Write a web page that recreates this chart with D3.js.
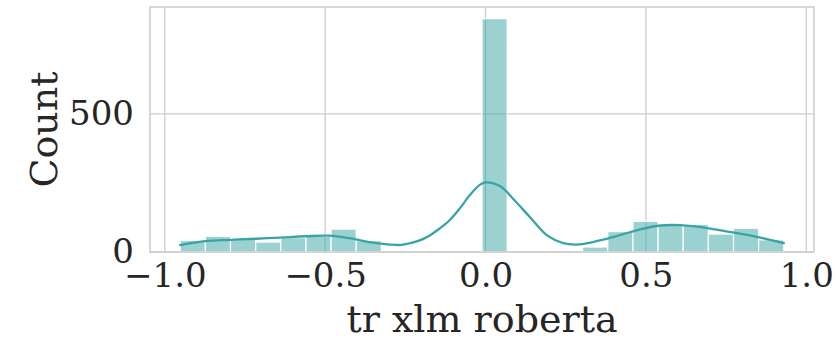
<!DOCTYPE html>
<html>
<head>
<meta charset="utf-8">
<script src="https://cdn.jsdelivr.net/npm/d3@7"></script>
<style>
  html, body { margin: 0; padding: 0; background: #ffffff; }
  svg { display: block; }
  text { font-family: "DejaVu Serif", serif; fill: #262626; }
</style>
</head>
<body>
<svg id="chart" width="837" height="341"></svg>
<script>
// Histogram of tr xlm roberta scores: 24 equal-width bins between the data extremes
const dataMin = -0.952;
const dataMax = 0.930;
const binCounts = [42, 57, 47, 36, 52, 57, 83, 41, 0, 0, 0, 0,
                   845, 0, 0, 0, 18, 74, 111, 97, 100, 65, 86, 44];

// Kernel density estimate, scaled to counts
const kdeX = [-0.952, -0.873, -0.795, -0.717, -0.640, -0.562, -0.487, -0.424, -0.362,
              -0.299, -0.261, -0.205, -0.174, -0.143, -0.112, -0.080, -0.049, -0.018,
              0.000, 0.045, 0.085, 0.138, 0.192, 0.242, 0.285, 0.335, 0.398, 0.482,
              0.545, 0.607, 0.701, 0.795, 0.857, 0.930];
const kdeY = [25, 39, 44, 48, 52, 57, 59, 50, 36,
              27, 26, 42, 60, 85, 115, 158, 206, 243,
              252, 239, 194, 127, 60, 32, 27, 36, 54, 82,
              96, 97, 85, 66, 52, 32];

const xTicks = [-1.0, -0.5, 0.0, 0.5, 1.0];
const yTicks = [0, 500];
const xLabel = "tr xlm roberta";
const yLabel = "Count";

const svg = d3.select("#chart");
const plot = { left: 150, right: 814, top: 7, bottom: 252 };
const teal = "#3aa4a4";
const gridColor = "#cccccc";

const binWidth = (dataMax - dataMin) / binCounts.length;
const bins = binCounts.map((c, i) => ({
  x0: dataMin + i * binWidth,
  x1: dataMin + (i + 1) * binWidth,
  count: c
}));

const span = dataMax - dataMin;
const x = d3.scaleLinear()
  .domain([dataMin - 0.05 * span, dataMax + 0.05 * span])
  .range([plot.left, plot.right]);
const y = d3.scaleLinear()
  .domain([0, d3.max(binCounts) * 1.05])
  .range([plot.bottom, plot.top]);

// grid
const grid = svg.append("g");
grid.selectAll("line.vx").data(xTicks).join("line")
  .attr("x1", d => x(d)).attr("x2", d => x(d))
  .attr("y1", plot.top).attr("y2", plot.bottom)
  .attr("stroke", gridColor).attr("stroke-width", 1.25);
grid.selectAll("line.hy").data(yTicks).join("line")
  .attr("x1", plot.left).attr("x2", plot.right)
  .attr("y1", d => y(d)).attr("y2", d => y(d))
  .attr("stroke", gridColor).attr("stroke-width", 1.25);

// bars
svg.append("g").selectAll("rect").data(bins.filter(b => b.count > 0)).join("rect")
  .attr("x", d => x(d.x0))
  .attr("y", d => y(d.count))
  .attr("width", d => x(d.x1) - x(d.x0))
  .attr("height", d => y(0) - y(d.count))
  .attr("fill", teal).attr("fill-opacity", 0.5)
  .attr("stroke", "#ffffff").attr("stroke-width", 1.2);

// density curve
const line = d3.line()
  .x((d, i) => x(kdeX[i]))
  .y(d => y(d))
  .curve(d3.curveCatmullRom.alpha(0.5));
svg.append("path")
  .datum(kdeY)
  .attr("d", line)
  .attr("fill", "none")
  .attr("stroke", teal)
  .attr("stroke-width", 2.3)
  .attr("stroke-linecap", "round");

// frame
svg.append("rect")
  .attr("x", plot.left).attr("y", plot.top)
  .attr("width", plot.right - plot.left).attr("height", plot.bottom - plot.top)
  .attr("fill", "none").attr("stroke", gridColor).attr("stroke-width", 1.5);

// axes (labels only, no tick marks)
const xAxis = d3.axisBottom(x).tickValues(xTicks).tickSize(0).tickPadding(11)
  .tickFormat(d3.format(".1f"));
const gx = svg.append("g").attr("transform", `translate(0,${plot.bottom})`).call(xAxis);
gx.select(".domain").remove();
gx.selectAll("text").style("font-size", "34px")
  .style("font-family", "'DejaVu Serif', serif").attr("fill", "#262626");

const yAxis = d3.axisLeft(y).tickValues(yTicks).tickSize(0).tickPadding(16)
  .tickFormat(d3.format("d"));
const gy = svg.append("g").attr("transform", `translate(${plot.left},0)`).call(yAxis);
gy.select(".domain").remove();
gy.selectAll("text").style("font-size", "34px")
  .style("font-family", "'DejaVu Serif', serif").attr("fill", "#262626");

// axis titles
svg.append("text")
  .attr("x", (plot.left + plot.right) / 2).attr("y", 332)
  .attr("text-anchor", "middle")
  .style("font-size", "38px")
  .text(xLabel);
svg.append("text")
  .attr("transform", `translate(57,${(plot.top + plot.bottom) / 2}) rotate(-90)`)
  .attr("text-anchor", "middle")
  .style("font-size", "38px")
  .text(yLabel);
</script>
</body>
</html>
